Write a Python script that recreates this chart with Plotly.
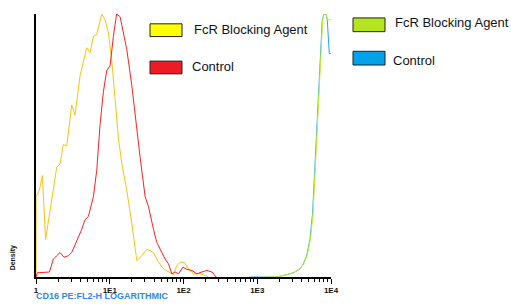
import plotly.graph_objects as go

# FcR Blocking Agent (yellow) - low population
yellow_x = [1.0, 1.0, 1.11, 1.22, 1.35, 1.55, 1.91, 2.12, 2.35, 2.61, 3.05, 3.38, 3.96, 4.87, 5.41,
            6.0, 6.66, 7.79, 8.65, 9.6, 10.6, 11.8, 13.1, 14.6, 17.0, 19.9, 23.3, 27.2, 31.8, 39.2,
            45.8, 53.5, 62.6, 73.1, 81.2, 90.1, 102, 117, 137, 168, 207, 215]
yellow_y = [0, 30.5, 33.0, 38.6, 14.3, 25.5, 41.7, 43.0, 50.4, 49.8, 65.4, 61.6, 76.6, 87.2, 85.3,
            91.5, 92.2, 100, 97.8, 92.8, 82.8, 67.9, 52.9, 43.0, 33.0, 20.5, 6.2, 8.1, 10.6, 9.3,
            5.6, 3.1, 1.9, 0.9, 4.4, 5.6, 5.6, 3.1, 1.2, 1.2, 0.4, 0]

# Control (red)
red_x = [1.0, 1.04, 1.52, 1.72, 1.91, 2.12, 2.4, 2.75, 3.05, 3.56, 4.17, 4.62, 5.13, 6.0, 6.66,
         7.39, 8.2, 9.1, 10.1, 11.2, 12.4, 13.8, 15.3, 17.0, 19.9, 23.3, 25.8, 30.2, 33.5, 39.2,
         43.5, 48.2, 56.4, 62.6, 69.5, 77.1, 85.5, 98, 111, 130, 152, 177, 207, 243, 277]
red_y = [0, 1.6, 1.9, 6.8, 8.1, 9.3, 7.5, 8.1, 9.3, 13.7, 18.1, 21.8, 23.0, 30.5, 40.5,
         57.9, 70.4, 78.5, 80.3, 91.5, 100, 99.0, 92.8, 86.6, 72.9, 55.4, 45.5, 30.5, 26.8, 18.1,
         13.1, 10.6, 6.8, 5.0, 1.2, 1.9, 1.2, 3.7, 2.9, 2.5, 1.2, 1.9, 2.5, 1.9, 0]

# FcR Blocking Agent (green) - high population
green_x = [1200, 1830, 2510, 3090, 3800, 4260, 4740, 5260, 5710, 6150, 6680, 7200, 7700, 8080, 8550, 9000, 10000]
green_y = [0, 0, 0.9, 1.6, 3.1, 5.0, 8.1, 14.3, 24.3, 43.0, 64.1, 80.3, 97.8, 100, 100, 97.8, 97.8]

# Control (blue) - high population
blue_x = [776, 1830, 2510, 3090, 3800, 4220, 4680, 5190, 5630, 6060, 6590, 7100, 7620, 8030, 8550, 8900, 9480, 10000]
blue_y = [0, 0, 0.9, 1.6, 3.1, 5.0, 8.1, 14.3, 24.3, 43.0, 64.1, 80.3, 97.8, 100, 100, 97.8, 85.0, 85.0]

tick_vals = [1, 10, 100, 1000, 10000]
tick_text = ["1", "1E1", "1E2", "1E3", "1E4"]

legend_left = ["FcR Blocking Agent", "Control"]
legend_right = ["FcR Blocking Agent", "Control"]

fig = go.Figure()
fig.add_trace(go.Scatter(x=yellow_x, y=yellow_y, mode="lines", line=dict(color="#FFC20E", width=1)))
fig.add_trace(go.Scatter(x=red_x, y=red_y, mode="lines", line=dict(color="#FF1F1F", width=1)))
fig.add_trace(go.Scatter(x=blue_x, y=blue_y, mode="lines", line=dict(color="#1EA8EE", width=1)))
fig.add_trace(go.Scatter(x=green_x, y=green_y, mode="lines", line=dict(color="#C6EE1E", width=1)))

W, H = 511, 307
L, R, T, B = 36, 180, 14, 25
pw, ph = W - L - R, H - T - B


def px(x):
    return (x - L) / pw


def py(y):
    return (H - B - y) / ph


# legend boxes and labels
boxes = [
    (150, 24, 182, 37, "#FFFF00", legend_left[0], 192, 30),
    (150, 62, 182, 75, "#ED1C24", legend_left[1], 190, 67),
    (353, 18, 385, 32, "#B5E61D", legend_right[0], 393, 23),
    (353, 52, 385, 66, "#00A2E8", legend_right[1], 391, 61),
]
for x0, y0, x1, y1, col, txt, tx, ty in boxes:
    fig.add_shape(type="rect", xref="paper", yref="paper", x0=px(x0), x1=px(x1), y0=py(y1), y1=py(y0),
                  fillcolor=col, line=dict(color="#222222", width=1))
    fig.add_annotation(xref="paper", yref="paper", x=px(tx), y=py(ty), text=txt, showarrow=False,
                       xanchor="left", yanchor="middle",
                       font=dict(family="Liberation Sans, Arial", size=13, color="#111122"))

fig.add_annotation(xref="paper", yref="paper", x=px(35), y=py(307), text="<b>CD16 PE:FL2-H LOGARITHMIC</b>",
                   showarrow=False, xanchor="left", yanchor="bottom", borderpad=0,
                   font=dict(family="Liberation Sans, Arial", size=9, color="#2E8AE6"))
fig.add_annotation(xref="paper", yref="paper", x=px(13), y=py(263), text="<b>Density</b>", textangle=-90,
                   showarrow=False, xanchor="center", yanchor="middle",
                   font=dict(family="Liberation Sans, Arial", size=7, color="#111111"))

fig.update_layout(
    width=W, height=H, margin=dict(l=L, r=R, t=T, b=B),
    paper_bgcolor="white", plot_bgcolor="white", showlegend=False,
    xaxis=dict(type="log", range=[0, 4], tickvals=tick_vals, ticktext=tick_text,
               showgrid=False, zeroline=False, showline=True, linecolor="#000000", linewidth=1.5,
               ticks="outside", ticklen=5, tickwidth=1, tickcolor="#000000", ticklabelstandoff=0,
               minor=dict(ticks="outside", ticklen=3, tickwidth=1, tickcolor="#000000", dtick="D1", showgrid=False),
               tickfont=dict(family="Liberation Sans, Arial", size=8, color="#111111", weight="bold")),
    yaxis=dict(range=[0, 100], showgrid=False, zeroline=False, showline=True, linecolor="#000000",
               linewidth=1.5, showticklabels=False, ticks=""),
)

fig.write_html("out.html", config={"displayModeBar": False},
               post_script="document.body.style.margin='0';document.body.style.overflow='hidden';")
